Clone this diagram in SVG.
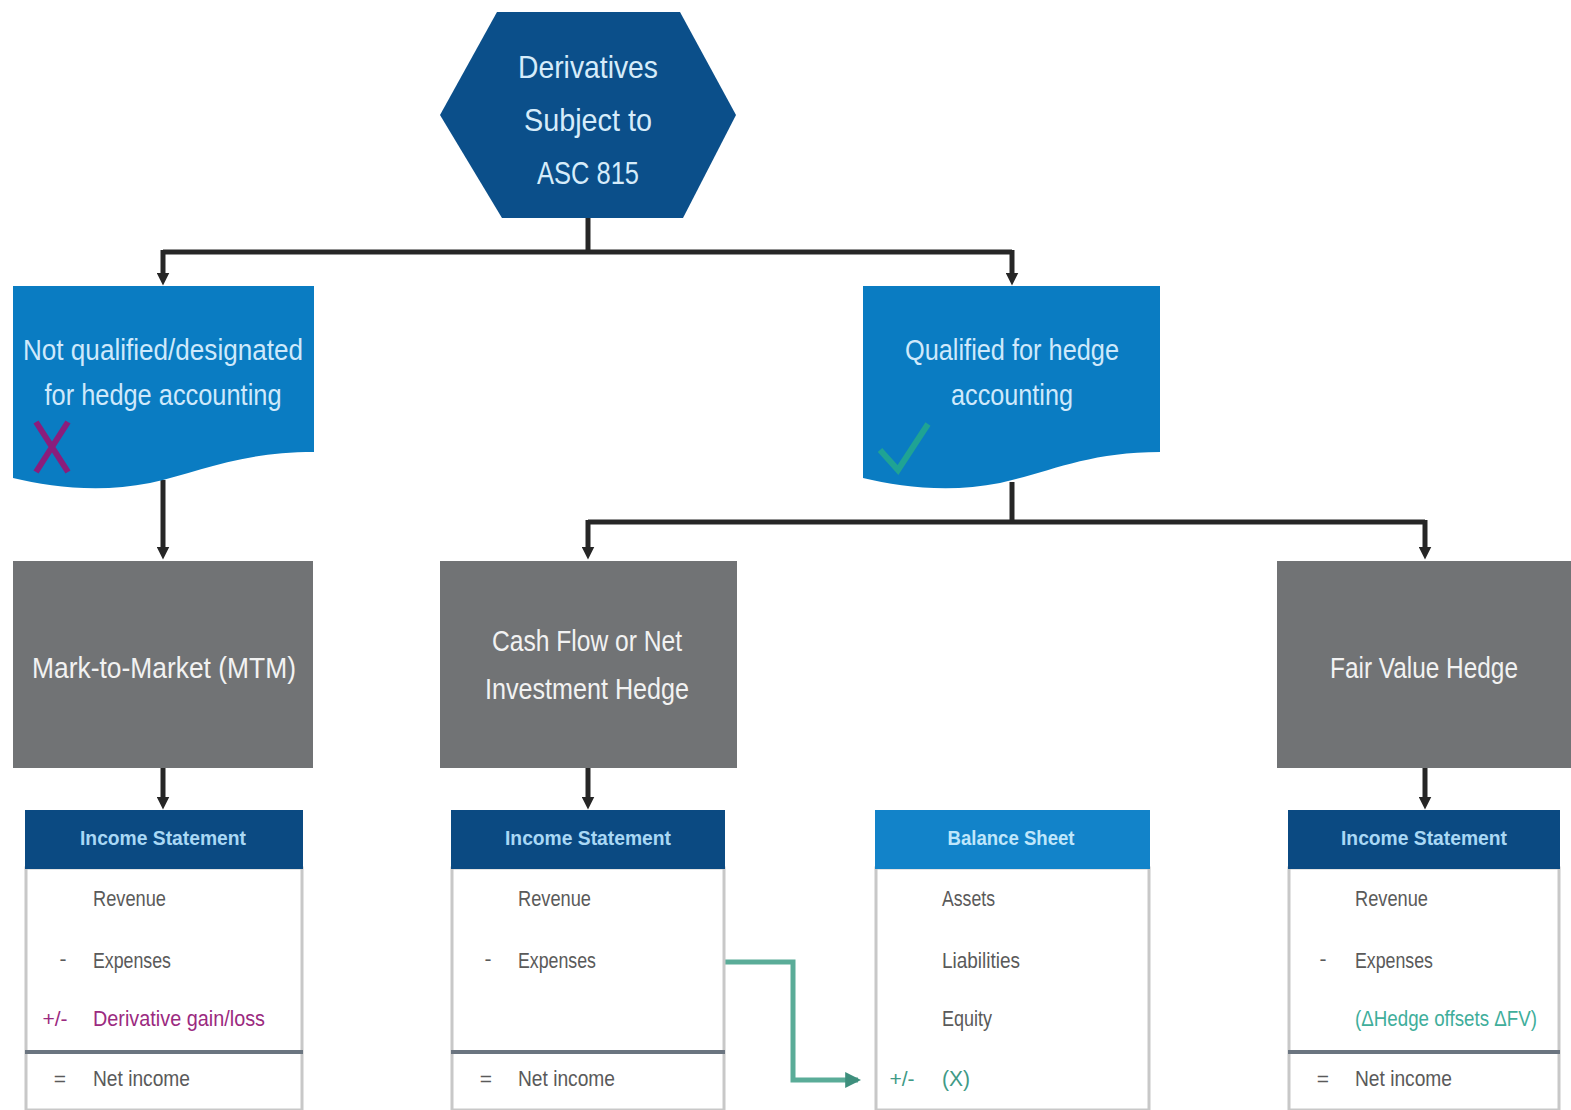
<svg xmlns="http://www.w3.org/2000/svg" width="1571" height="1110" viewBox="0 0 1571 1110">
<defs>
<style>
.t{font-family:"Liberation Sans",Arial,sans-serif;}
.hex{fill:#0b4f8a;}
.blue{fill:#0a7cc2;}
.gray{fill:#717375;}
.hd{fill:#0b4a82;}
.hd2{fill:#1283c9;}
.body{fill:#ffffff;stroke:#c8c8c8;stroke-width:3;}
.wt{fill:#d6ecfa;font-size:32px;text-anchor:middle;}
.bt{fill:#cfe9fb;font-size:29px;text-anchor:middle;}
.gt{fill:#f2f2f2;font-size:29px;text-anchor:middle;}
.ht{fill:#a9d8f5;font-size:21px;font-weight:bold;text-anchor:middle;}
.row{fill:#5a5a5a;font-size:22px;}
.sg{fill:#5a5a5a;font-size:21px;text-anchor:middle;}
.conn{stroke:#262626;stroke-width:5;fill:none;}
.sep{stroke:#6b7580;stroke-width:4;}
</style>
<marker id="ah" viewBox="0 0 10 10" refX="5" refY="5" markerWidth="2.6" markerHeight="2.6" orient="auto">
<path d="M0,0 L10,5 L0,10 z" fill="#262626"/>
</marker>
<marker id="ahg" viewBox="0 0 10 10" refX="8" refY="5" markerWidth="3.2" markerHeight="3.2" orient="auto">
<path d="M0,0 L10,5 L0,10 z" fill="#3e8f7d"/>
</marker>
</defs>
<rect width="1571" height="1110" fill="#ffffff"/>

<g id="connectors">
<path class="conn" d="M588,217 V252"/>
<path class="conn" d="M163,252 H1012"/>
<path class="conn" d="M163,250 V279" marker-end="url(#ah)"/>
<path class="conn" d="M1012,250 V279" marker-end="url(#ah)"/>
<path class="conn" d="M163,480 V553" marker-end="url(#ah)"/>
<path class="conn" d="M1012,482 V522"/>
<path class="conn" d="M588,522 H1425"/>
<path class="conn" d="M588,520 V553" marker-end="url(#ah)"/>
<path class="conn" d="M1425,520 V553" marker-end="url(#ah)"/>
<path class="conn" d="M163,768 V803" marker-end="url(#ah)"/>
<path class="conn" d="M588,768 V803" marker-end="url(#ah)"/>
<path class="conn" d="M1425,768 V803" marker-end="url(#ah)"/>
<path d="M725,962 H793 V1080 H858" stroke="#5aac98" stroke-width="5" fill="none" marker-end="url(#ahg)"/>
</g>

<g id="root">
<polygon class="hex" points="497,12 680,12 736,115 683,218 502,218 440,115"/>
<text class="t wt" x="588" y="78" textLength="140" lengthAdjust="spacingAndGlyphs">Derivatives</text>
<text class="t wt" x="588" y="131" textLength="128" lengthAdjust="spacingAndGlyphs">Subject to</text>
<text class="t wt" x="588" y="184" textLength="102" lengthAdjust="spacingAndGlyphs">ASC 815</text>
</g>

<g id="not-qualified">
<path class="blue" d="M13,286 H314 V452 C240,452 200,472 150,483 C100,493 50,487 13,478 Z"/>
<text class="t bt" x="163" y="360" textLength="280" lengthAdjust="spacingAndGlyphs">Not qualified/designated</text>
<text class="t bt" x="163" y="405" textLength="237" lengthAdjust="spacingAndGlyphs">for hedge accounting</text>
<path d="M36,422 L68,472 M68,422 L36,472" stroke="#8a1d7c" stroke-width="6" fill="none"/>
</g>

<g id="qualified">
<path class="blue" d="M863,286 H1160 V452 C1088,452 1050,472 1000,483 C950,493 900,487 863,478 Z"/>
<text class="t bt" x="1012" y="360" textLength="214" lengthAdjust="spacingAndGlyphs">Qualified for hedge</text>
<text class="t bt" x="1012" y="405" textLength="122" lengthAdjust="spacingAndGlyphs">accounting</text>
<path d="M880,450 L898,470 L928,424" stroke="#1fa394" stroke-width="6" fill="none"/>
</g>

<g id="mtm">
<rect class="gray" x="13" y="561" width="300" height="207"/>
<text class="t gt" x="164" y="678" textLength="264" lengthAdjust="spacingAndGlyphs">Mark-to-Market (MTM)</text>
</g>

<g id="cash-flow">
<rect class="gray" x="440" y="561" width="297" height="207"/>
<text class="t gt" x="587" y="651" textLength="190" lengthAdjust="spacingAndGlyphs">Cash Flow or Net</text>
<text class="t gt" x="587" y="699" textLength="204" lengthAdjust="spacingAndGlyphs">Investment Hedge</text>
</g>

<g id="fair-value">
<rect class="gray" x="1277" y="561" width="294" height="207"/>
<text class="t gt" x="1424" y="678" textLength="188" lengthAdjust="spacingAndGlyphs">Fair Value Hedge</text>
</g>

<g id="is-mtm">
<rect class="body" x="26" y="868" width="276" height="242"/>
<rect class="hd" x="25" y="810" width="278" height="59"/>
<text class="t ht" x="163" y="845" textLength="166" lengthAdjust="spacingAndGlyphs">Income Statement</text>
<text class="t row" x="93" y="906" textLength="73" lengthAdjust="spacingAndGlyphs">Revenue</text>
<text class="t sg" x="63" y="966">-</text>
<text class="t row" x="93" y="968" textLength="78" lengthAdjust="spacingAndGlyphs">Expenses</text>
<text class="t sg" x="55" y="1026" style="fill:#9b2a80">+/-</text>
<text class="t row" x="93" y="1026" style="fill:#9b2a80" textLength="172" lengthAdjust="spacingAndGlyphs">Derivative gain/loss</text>
<line class="sep" x1="25" y1="1052" x2="303" y2="1052"/>
<text class="t sg" x="60" y="1086">=</text>
<text class="t row" x="93" y="1086" textLength="97" lengthAdjust="spacingAndGlyphs">Net income</text>
</g>

<g id="is-cf">
<rect class="body" x="452" y="868" width="272" height="242"/>
<rect class="hd" x="451" y="810" width="274" height="59"/>
<text class="t ht" x="588" y="845" textLength="166" lengthAdjust="spacingAndGlyphs">Income Statement</text>
<text class="t row" x="518" y="906" textLength="73" lengthAdjust="spacingAndGlyphs">Revenue</text>
<text class="t sg" x="488" y="966">-</text>
<text class="t row" x="518" y="968" textLength="78" lengthAdjust="spacingAndGlyphs">Expenses</text>
<line class="sep" x1="451" y1="1052" x2="725" y2="1052"/>
<text class="t sg" x="486" y="1086">=</text>
<text class="t row" x="518" y="1086" textLength="97" lengthAdjust="spacingAndGlyphs">Net income</text>
</g>

<g id="bs">
<rect class="body" x="876" y="868" width="273" height="242"/>
<rect class="hd2" x="875" y="810" width="275" height="59"/>
<text class="t ht" x="1011" y="845" style="fill:#bfe6fb" textLength="127" lengthAdjust="spacingAndGlyphs">Balance Sheet</text>
<text class="t row" x="942" y="906" textLength="53" lengthAdjust="spacingAndGlyphs">Assets</text>
<text class="t row" x="942" y="968" textLength="78" lengthAdjust="spacingAndGlyphs">Liabilities</text>
<text class="t row" x="942" y="1026" textLength="50" lengthAdjust="spacingAndGlyphs">Equity</text>
<text class="t sg" x="902" y="1086" style="fill:#3f9a86">+/-</text>
<text class="t row" x="942" y="1086" style="fill:#3f9a86" textLength="28" lengthAdjust="spacingAndGlyphs">(X)</text>
</g>

<g id="is-fv">
<rect class="body" x="1289" y="868" width="270" height="242"/>
<rect class="hd" x="1288" y="810" width="272" height="59"/>
<text class="t ht" x="1424" y="845" textLength="166" lengthAdjust="spacingAndGlyphs">Income Statement</text>
<text class="t row" x="1355" y="906" textLength="73" lengthAdjust="spacingAndGlyphs">Revenue</text>
<text class="t sg" x="1323" y="966">-</text>
<text class="t row" x="1355" y="968" textLength="78" lengthAdjust="spacingAndGlyphs">Expenses</text>
<text class="t row" x="1355" y="1026" style="fill:#3fae9b" textLength="182" lengthAdjust="spacingAndGlyphs">(ΔHedge offsets ΔFV)</text>
<line class="sep" x1="1288" y1="1052" x2="1560" y2="1052"/>
<text class="t sg" x="1323" y="1086">=</text>
<text class="t row" x="1355" y="1086" textLength="97" lengthAdjust="spacingAndGlyphs">Net income</text>
</g>
</svg>
